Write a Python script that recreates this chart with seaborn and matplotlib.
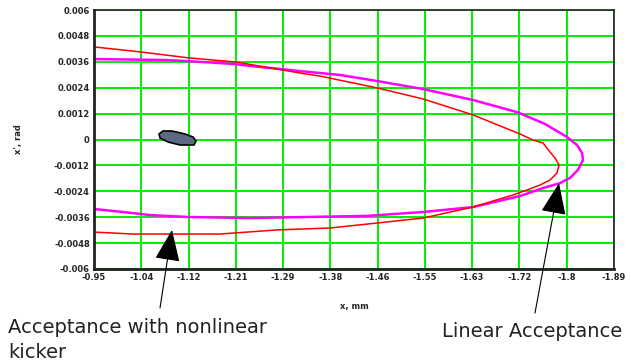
import numpy as np
import matplotlib
matplotlib.use('Agg')
import matplotlib.pyplot as plt
import seaborn as sns
import pandas as pd

# acceptance with nonlinear kicker (red)
red_x = [-0.950, -1.0368, -1.1217, -1.2067, -1.3224, -1.3585, -1.4616, -1.5447, -1.6351,
         -1.7201, -1.7436, -1.7617, -1.7743, -1.7834, -1.7906,
         -1.7870, -1.7743, -1.7562, -1.7327, -1.7074, -1.6351, -1.5447, -1.4616,
         -1.3766, -1.2808, -1.1778, -1.0205, -0.950]
red_y = [0.00429, 0.00405, 0.00378, 0.00359, 0.00308, 0.00294, 0.00239, 0.00188, 0.00114,
         0.000255, -0.000023, -0.000162, -0.000579, -0.000857, -0.00118,
         -0.00155, -0.00188, -0.00211, -0.00234, -0.00257, -0.00313, -0.00364, -0.00387,
         -0.00410, -0.00419, -0.00438, -0.00438, -0.00429]

# linear acceptance (magenta)
mag_x = [-0.950, -1.0820, -1.1470, -1.2013, -1.2501, -1.3224, -1.3947, -1.4616, -1.5447,
         -1.6351, -1.7147, -1.7653, -1.8050, -1.8231, -1.8322, -1.8340,
         -1.8249, -1.8105, -1.7924, -1.7617, -1.7201, -1.6351, -1.5447, -1.4435,
         -1.3350, -1.2320, -1.1199, -1.0512, -1.0024, -0.950]
mag_y = [0.00373, 0.00368, 0.00359, 0.00350, 0.00336, 0.00317, 0.00299, 0.00271, 0.00234,
         0.00183, 0.00127, 0.00072, 0.000116, -0.000255, -0.000625, -0.00095,
         -0.00141, -0.00178, -0.00202, -0.00225, -0.00262, -0.00313, -0.00336, -0.00354,
         -0.00359, -0.00364, -0.00359, -0.00350, -0.00336, -0.00322]

# small beam spot near the origin
blob_x = [-1.0675, -1.0747, -1.0910, -1.1145, -1.1290, -1.1344, -1.1308, -1.1055, -1.0838, -1.0693]
blob_y = [0.000255, 0.000394, 0.000394, 0.000255, 0.000116, -0.000069, -0.000255, -0.000255, -0.000116, 0.000070]

x_ticks = [-0.95, -1.04, -1.12, -1.21, -1.29, -1.38, -1.46, -1.55, -1.63, -1.72, -1.8, -1.89]
y_ticks = [0.006, 0.0048, 0.0036, 0.0024, 0.0012, 0, -0.0012, -0.0024, -0.0036, -0.0048, -0.006]
y_labels = ['0.006', '0.0048', '0.0036', '0.0024', '0.0012', '0',
            '-0.0012', '-0.0024', '-0.0036', '-0.0048', '-0.006']

sns.set_style('white')
plt.rcParams['font.family'] = ['DejaVu Sans']

fig = plt.figure(figsize=(6.31, 3.63), dpi=100)
ax = fig.add_axes([94 / 631, 1 - 269 / 363, 520 / 631, 259 / 363])

red_df = pd.DataFrame({'x': red_x, 'y': red_y})
mag_df = pd.DataFrame({'x': mag_x, 'y': mag_y})
sns.lineplot(data=mag_df, x='x', y='y', sort=False, estimator=None, color='#ff00ff', lw=1.8, ax=ax)
sns.lineplot(data=red_df, x='x', y='y', sort=False, estimator=None, color='#ff0000', lw=1.1, ax=ax)
ax.fill(blob_x, blob_y, facecolor='#5b6a82', edgecolor='black', lw=1.2, zorder=3)

ax.set_xlim(-0.95, -1.89)
ax.set_ylim(-0.006, 0.006)
ax.set_xticks(np.linspace(-0.95, -1.89, 12))
ax.set_xticklabels([f'{v:g}' for v in x_ticks], fontsize=6, fontweight='bold')
ax.set_yticks(y_ticks)
ax.set_yticklabels(y_labels, fontsize=6, fontweight='bold')
ax.tick_params(length=0, pad=3)
ax.grid(True, color='#00ee00', lw=1.4)
ax.set_axisbelow(True)
for s in ax.spines.values():
    s.set_color('#222222')
    s.set_linewidth(1.2)
ax.spines['left'].set_linewidth(2)
ax.spines['bottom'].set_linewidth(2)
ax.set_xlabel('x, mm', fontsize=6, fontweight='bold', labelpad=14)
ax.set_ylabel("x', rad", fontsize=6, fontweight='bold', labelpad=22)

arrow = dict(arrowstyle='-|>,head_length=1.0,head_width=0.4', mutation_scale=20,
             color='black', lw=0.8, shrinkA=0, shrinkB=0)
ax.annotate('', xy=(-1.091, -0.00419), xytext=(160, 363 - 308),
            textcoords='figure pixels', arrowprops=arrow)
ax.annotate('', xy=(-1.7906, -0.00202), xytext=(535, 363 - 313),
            textcoords='figure pixels', arrowprops=arrow)

fig.text(8 / 631, 30 / 363, 'Acceptance with nonlinear', fontsize=14, color='#222222', va='baseline')
fig.text(8 / 631, 5 / 363, 'kicker', fontsize=14, color='#222222', va='baseline')
fig.text(442 / 631, 26 / 363, 'Linear Acceptance', fontsize=14, color='#222222', va='baseline')

plt.savefig('out.png', dpi=100)
